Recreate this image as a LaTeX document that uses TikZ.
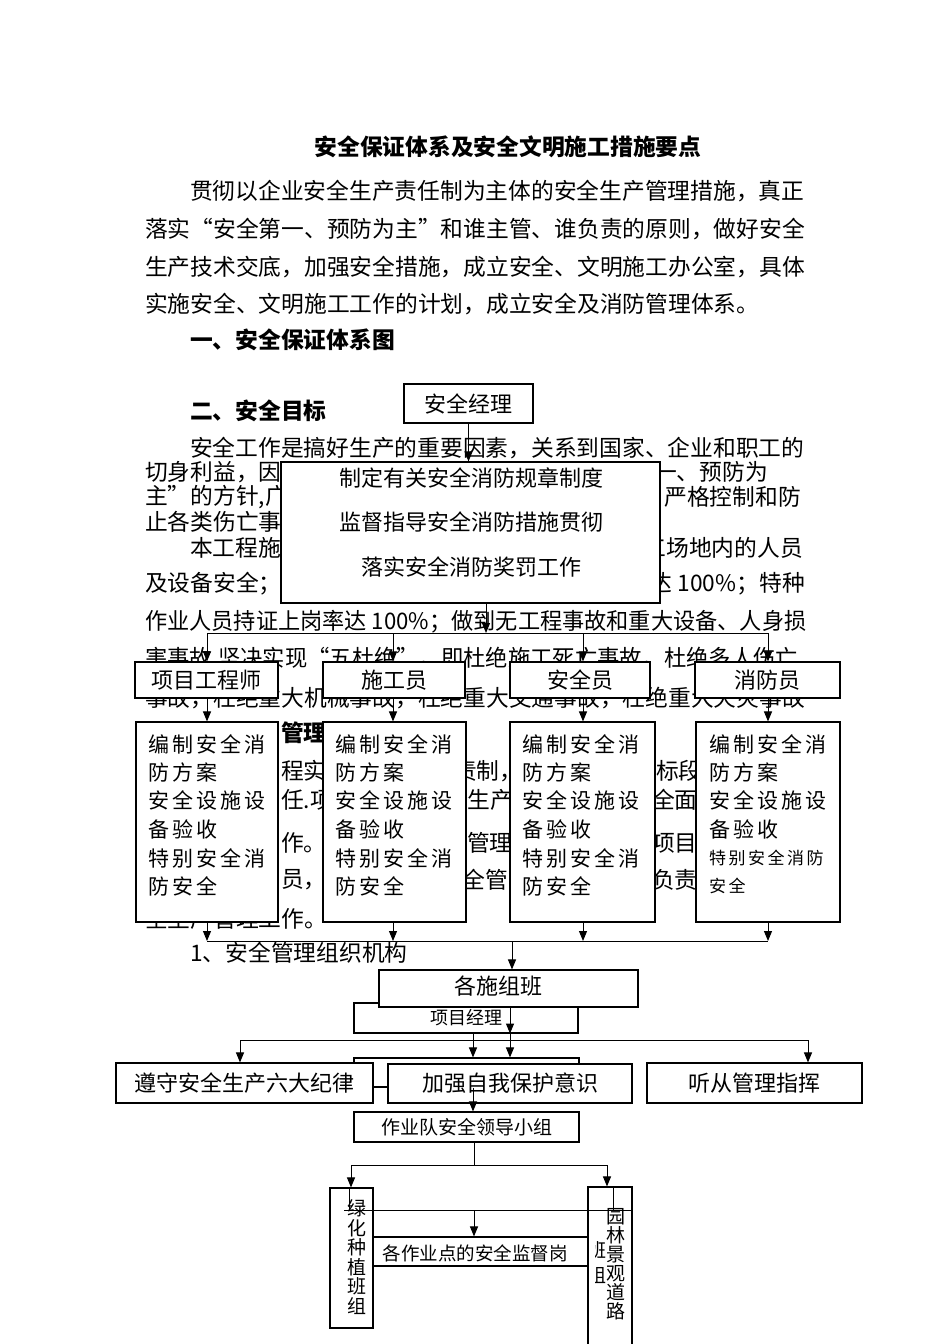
\documentclass[tikz,border=0pt]{standalone}
\usepackage{fontspec}
\usepackage{graphicx}
\setmainfont{Noto Sans CJK SC}
\usetikzlibrary{arrows.meta}
\newcommand\spcx[2]{\def\spgap{#1}\spcaux#2\relax}
\def\spcaux#1{\ifx#1\relax\else#1\hskip\spgap pt\relax\expandafter\spcaux\fi}
\newcommand\qL{\makebox[1em][r]{“}}
\newcommand\qR{\makebox[1em][l]{”}}
\begin{document}
\begin{tikzpicture}[x=1pt,y=-1pt,
  body/.style={inner sep=0pt, anchor=west, font=\fontsize{22.75}{24}\selectfont},
  bodyE/.style={body, anchor=east},
  hd/.style={body, font=\fontsize{22.75}{24}\selectfont\bfseries},
  box/.style={draw, fill=white, line width=1.1pt, inner sep=0pt, font=\fontsize{22}{24}\selectfont},
  lbl/.style={inner sep=0pt, font=\fontsize{22}{24}\selectfont},
  ltx/.style={inner sep=0pt, anchor=west, font=\fontsize{21}{24}\selectfont},
  stx/.style={inner sep=0pt, anchor=west, font=\fontsize{17}{20}\selectfont},
  arr/.style={line width=1pt, -{Triangle[length=10pt,width=8pt]}},
  ln/.style={line width=1pt}]
\fill[white] (0,0) rectangle (950,1344);
\useasboundingbox (0,0) rectangle (950,1344);

% ---------------- body text ----------------
\node[hd, anchor=center] (title) at (508,147) {安全保证体系及安全文明施工措施要点};
\node[body] (p1) at (190,191) {贯彻以企业安全生产责任制为主体的安全生产管理措施，真正};
\node[body] (p2) at (145,229) {落实\qL 安全第一、预防为主\qR 和谁主管、谁负责的原则，做好安全};
\node[body] (p3) at (145,267) {生产技术交底，加强安全措施，成立安全、文明施工办公室，具体};
\node[body] (p4) at (145,304) {实施安全、文明施工工作的计划，成立安全及消防管理体系。};
\node[hd] (h1) at (190,340) {一、安全保证体系图};
\node[hd] (h2) at (190,411) {二、安全目标};
\node[body] (p5) at (190,448) {安全工作是搞好生产的重要因素，关系到国家、企业和职工的};
\node[body] (p6a) at (145,472) {切身利益，因};
\node[bodyE] (p6b) at (768,472) {一、预防为};
\node[body] (p7a) at (145,497) {主\qR 的方针,广};
\node[bodyE] (p7b) at (801,497) {严格控制和防};
\node[body] (p8a) at (145,522) {止各类伤亡事};
\node[body] (p9a) at (190,548) {本工程施};
\node[bodyE] (p9b) at (803,548) {工场地内的人员};
\node[body] (p10a) at (145,584) {及设备安全；};
\node[bodyE] (p10b) at (805,584) {率达 100\%；特种};
\node[body] (p11) at (145,622) {\scalebox{0.975}[1]{作业人员持证上岗率达 100\%；做到无工程事故和重大设备、人身损}};
\node[body] (p12) at (145,659) {\scalebox{0.98}[1]{害事故,坚决实现\qL 五杜绝\qR ，即杜绝施工死亡事故，杜绝多人伤亡}};
\node[body] (p13) at (145,698) {事故，杜绝重大机械事故，杜绝重大交通事故，杜绝重大火灾事故};
\node[hd] (h3) at (281,733) {管理};
\node[body] (g1a) at (281,771) {程实};
\node[body] (g2a) at (454,771) {责制，};
\node[body] (g3a) at (656,771) {标段};
\node[body] (g1b) at (281,800) {任.项};
\node[body] (g2b) at (445,800) {全生产};
\node[body] (g3b) at (652,800) {全面};
\node[body] (g1c) at (281,843) {作。};
\node[body] (g2c) at (467,843) {管理};
\node[body] (g3c) at (652,843) {项目部};
\node[body] (g1d) at (281,880) {员，};
\node[body] (g2d) at (440,880) {安全管};
\node[body] (g3d) at (652,880) {负责};
\node[body] (p14) at (145,919) {全生产管理工作。};
\node[body] (s1t) at (190,953) {1、安全管理组织机构};

% ---------------- upper diagram ----------------
\node[box, minimum width=129pt, minimum height=39pt] (aq) at (468.5,403.5) {安全经理};
\node[box, minimum width=379pt, minimum height=141pt] (big) at (470.5,532.5) {};
\node[lbl] (bt1) at (471,478) {制定有关安全消防规章制度};
\node[lbl] (bt2) at (471,522) {监督指导安全消防措施贯彻};
\node[lbl] (bt3) at (471,567) {落实安全消防奖罚工作};

\node[box, minimum width=143pt, minimum height=36pt] (r1a) at (206.5,680) {项目工程师};
\node[box, minimum width=142pt, minimum height=36pt] (r1b) at (394,680) {施工员};
\node[box, minimum width=140pt, minimum height=36pt] (r1c) at (580,680) {安全员};
\node[box, minimum width=145pt, minimum height=36pt] (r1d) at (767.5,680) {消防员};

\node[box, minimum width=142pt, minimum height=200pt] (r2a) at (207,822) {};
\node[box, minimum width=143pt, minimum height=200pt] (r2b) at (394.5,822) {};
\node[box, minimum width=145pt, minimum height=200pt] (r2c) at (582.5,822) {};
\node[box, minimum width=144pt, minimum height=200pt] (r2d) at (768,822) {};
\foreach \x/\k in {148/a,335/b,522/c}{
  \node[ltx] (c\k1) at (\x,744) {\spcx{3}{编制安全消}};
  \node[ltx] (c\k2) at (\x,772) {\spcx{3}{防方案}};
  \node[ltx] (c\k3) at (\x,800) {\spcx{3}{安全设施设}};
  \node[ltx] (c\k4) at (\x,829) {\spcx{3}{备验收}};
  \node[ltx] (c\k5) at (\x,858) {\spcx{3}{特别安全消}};
  \node[ltx] (c\k6) at (\x,886) {\spcx{3}{防安全}};
}
\node[ltx] (cd1) at (709,744) {\spcx{3}{编制安全消}};
\node[ltx] (cd2) at (709,772) {\spcx{3}{防方案}};
\node[ltx] (cd3) at (709,800) {\spcx{3}{安全设施设}};
\node[ltx] (cd4) at (709,829) {\spcx{3}{备验收}};
\node[stx] (cd5) at (709,858) {\spcx{2.5}{特别安全消防}};
\node[stx] (cd6) at (709,886) {\spcx{2.5}{安全}};

\coordinate (m1) at (486,633);
\coordinate (a1) at (207,633);
\coordinate (a2) at (393,633);
\coordinate (a3) at (583,633);
\coordinate (a4) at (768,633);
\coordinate (m2) at (512,941);
\draw[arr] (aq.south) -- (aq.south |- big.north);
\draw[arr] (big.south -| m1) -- (m1);
\draw[ln] (a1) -- (a4);
\draw[ln] (a1 |- m2) -- (a4 |- m2);
\foreach \i/\n in {1/a,2/b,3/c,4/d}{
  \draw[arr] (a\i) -- (a\i |- r1\n.north);
  \draw[arr] (a\i |- r1\n.south) -- (a\i |- r2\n.north);
  \draw[arr] (a\i |- r2\n.south) -- (a\i |- m2);
}

% ---------------- lower diagram ----------------
\node[box, minimum width=224pt, minimum height=30pt, font=\fontsize{18}{20}\selectfont] (pm) at (466,1018) {项目经理};
\node[box, minimum width=259pt, minimum height=37pt] (gs) at (508.5,988.5) {};
\node[lbl] (gst) at (498,986) {各施组班};
\draw[arr] (m2) -- (m2 |- gs.north);

\node[box, minimum width=225pt, minimum height=29pt] (hb) at (466.5,1072.5) {};
\node[box, minimum width=257pt, minimum height=40pt] (zs) at (244.5,1083) {遵守安全生产六大纪律};
\node[box, minimum width=244pt, minimum height=39pt] (jq) at (510,1083.5) {加强自我保护意识};
\node[box, minimum width=215pt, minimum height=40pt] (tc) at (754.5,1083) {听从管理指挥};
\node[box, minimum width=225pt, minimum height=30pt, font=\fontsize{19}{21}\selectfont] (zd) at (466.5,1127) {作业队安全领导小组};

\node[box, minimum width=43pt, minimum height=140pt] (lb) at (351.5,1258) {};
\node[box, minimum width=44pt, minimum height=173pt] (rb) at (610,1273.5) {};
\node[box, minimum width=215pt, minimum height=29pt] (jd) at (480.5,1251.5) {};
\node[inner sep=0pt, font=\fontsize{18.5}{20}\selectfont] (jdt) at (475,1253) {各作业点的安全监督岗};
\node[inner sep=0pt, align=center, font=\fontsize{19}{19.5}\selectfont] (lbt) at (357,1257) {绿\\化\\种\\植\\班\\组};
\node[inner sep=0pt, align=center, font=\fontsize{19}{19}\selectfont] (rbt) at (616,1264.5) {园\\林\\景\\观\\道\\路};
\begin{scope}
  \clip (595.5,1235) rectangle (607,1292);
  \node[inner sep=0pt, align=center, font=\fontsize{19}{25}\selectfont] (rbz) at (597,1262.5) {班\\组};
\end{scope}

\coordinate (s1) at (510,1040);
\coordinate (s2) at (473,1040);
\coordinate (s3) at (240,1040);
\coordinate (s4) at (808,1040);
\draw[arr] (gs.south -| s1) -- (pm.south -| s1);
\draw[arr] (pm.south -| s1) -- (hb.north -| s1);
\draw[arr] (pm.south -| s2) -- (hb.north -| s2);
\draw[ln] (s3) -- (s4);
\draw[arr] (s3) -- (s3 |- zs.north);
\draw[arr] (s4) -- (s4 |- tc.north);
\draw[arr] (hb.south -| s2) -- (zd.north -| s2);

\coordinate (s5) at (474,1165);
\coordinate (s6) at (351,1165);
\coordinate (s7) at (607,1165);
\draw[ln] (zd.south -| s5) -- (s5);
\draw[ln] (s6) -- (s7);
\draw[arr] (s6) -- (s6 |- lb.north);
\draw[arr] (s7) -- (s7 |- rb.north);
\coordinate (u0) at (344,1210);
\coordinate (u1) at (349,1210);
\coordinate (u2) at (613,1210);
\coordinate (u3) at (474,1210);
\coordinate (u4) at (632,1210);
\draw[ln] (u1 |- lb.north) -- (u1);
\draw[ln] (u2 |- rb.north) -- (u2);
\draw[ln] (u0) -- (u4);
\draw[arr] (u3) -- (u3 |- jd.north);
\end{tikzpicture}
\end{document}
